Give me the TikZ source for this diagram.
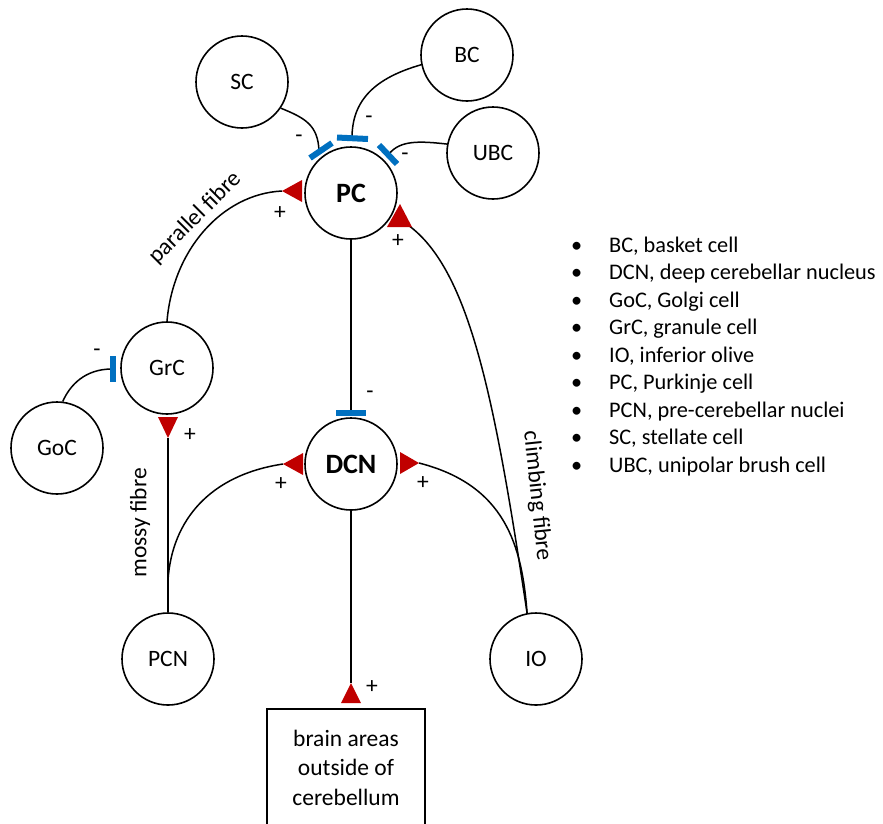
\documentclass[tikz,border=0pt]{standalone}
\usepackage{fontspec}
\setmainfont{Carlito}
\definecolor{exc}{HTML}{C00000}
\definecolor{inh}{HTML}{0070C0}
\begin{document}
\begin{tikzpicture}[x=1pt,y=-1pt,
  cell/.style={circle,draw,line width=1.6pt,minimum size=92pt,inner sep=0pt,font=\fontsize{23.5}{28}\selectfont},
  bigcell/.style={cell,font=\fontsize{28}{32}\selectfont\bfseries},
  conn/.style={line width=1.5pt},
  inhbar/.style={draw=inh,line width=6pt},
  exctri/.style={fill=exc},
  sign/.style={font=\fontsize{23.5}{28}\selectfont,inner sep=0pt},
  fibre/.style={font=\fontsize{23.5}{28}\selectfont,inner sep=0pt},
  legend/.style={anchor=base west,font=\fontsize{22.3}{26}\selectfont,inner sep=0pt}]
\useasboundingbox (0,0) rectangle (883,823);
% cells
\node[cell] (SC) at (242,82) {SC};
\node[cell] (BC) at (467,55) {BC};
\node[cell] (UBC) at (493,153) {UBC};
\node[bigcell] (PC) at (351,193) {PC};
\node[cell] (GrC) at (167,368) {GrC};
\node[cell] (GoC) at (57,448) {GoC};
\node[bigcell] (DCN) at (351,464) {DCN};
\node[cell] (PCN) at (168,659) {PCN};
\node[cell] (IO) at (536,659) {IO};
\node[draw,line width=1.6pt,minimum width=158pt,minimum height=118pt,align=center,anchor=north,
  font=\fontsize{23.5}{29.5}\selectfont] (BA) at (346,708) {brain areas\\outside of\\cerebellum};
% coordinates
\coordinate (pfA) at (282,191);
\coordinate (cfA) at (408,225);
\coordinate (grcA) at (168,438);
\coordinate (dcnL) at (283,464);
\coordinate (dcnR) at (419,463);
\coordinate (baA) at (351,683);
\coordinate (scB) at (319,151);
\coordinate (bcB) at (352,138);
\coordinate (ubcB) at (389,154);
\coordinate (pcB) at (351,413);
\coordinate (goB) at (112,369);
\coordinate (mfJ) at (168,580);
% connectors
\draw[conn] (SC.-34) .. controls (305,118) and (318,125) .. (scB);
\draw[conn] (BC.192) .. controls (375,78) and (352,100) .. (bcB);
\draw[conn] (UBC.169) .. controls (420,141) and (400,140) .. (ubcB);
\draw[conn] (GoC.83) .. controls (70,385) and (85,369) .. (goB);
\draw[conn] (GrC.north) .. controls (173,250) and (222,194) .. (pfA);
\draw[conn] (PCN.north) -- (grcA);
\draw[conn] (mfJ) .. controls (172,520) and (210,475) .. (dcnL);
\draw[conn] (IO.101) .. controls (522,545) and (505,485) .. (dcnR);
\draw[conn] (IO.101) .. controls (495,400) and (470,270) .. (cfA);
\draw[conn] (PC.south) -- (pcB);
\draw[conn] (DCN.south) -- (baA);
% inhibitory bars
\draw[inhbar] (310,158) -- (332,143);
\draw[inhbar] (337,137.5) -- (368,139);
\draw[inhbar] (379,145) -- (397,164);
\draw[inhbar] (336,413) -- (366,413);
\draw[inhbar] (113,356) -- (113,382);
% excitatory triangles
\fill[exctri] (pfA) -- (302,180) -- (302,202) -- cycle;
\fill[exctri] (400,204) -- (387,227) -- (412,227) -- cycle;
\fill[exctri] (grcA) -- (158,417) -- (178,417) -- cycle;
\fill[exctri] (dcnL) -- (303,453) -- (303,475) -- cycle;
\fill[exctri] (dcnR) -- (400,452) -- (400,474) -- cycle;
\fill[exctri] (baA) -- (341,703) -- (361,703) -- cycle;
% signs
\node[sign] (s1) at (299,139) {-};
\node[sign] (s2) at (369,120) {-};
\node[sign] (s3) at (405,157) {-};
\node[sign] (s4) at (280,213) {+};
\node[sign] (s5) at (398,241) {+};
\node[sign] (s6) at (97,353) {-};
\node[sign] (s7) at (190,435) {+};
\node[sign] (s8) at (281,484) {+};
\node[sign] (s9) at (423,483) {+};
\node[sign] (s10) at (370,395) {-};
\node[sign] (s11) at (372,687) {+};
% fibre labels
\node[fibre,rotate=45] (lpf) at (195,218) {parallel fibre};
\node[fibre,rotate=90] (lmf) at (140,523) {mossy fibre};
\node[fibre,rotate=-84] (lcf) at (537,496) {climbing fibre};
% legend
\node[legend] (b1) at (571,252) {\textbullet};
\node[legend] (b2) at (571,279.5) {\textbullet};
\node[legend] (b3) at (571,307) {\textbullet};
\node[legend] (b4) at (571,334.5) {\textbullet};
\node[legend] (b5) at (571,362) {\textbullet};
\node[legend] (b6) at (571,389.5) {\textbullet};
\node[legend] (b7) at (571,417) {\textbullet};
\node[legend] (b8) at (571,444.5) {\textbullet};
\node[legend] (b9) at (571,472) {\textbullet};
\node[legend] (t1) at (609,252) {BC, basket cell};
\node[legend] (t2) at (609,279.5) {DCN, deep cerebellar nucleus};
\node[legend] (t3) at (609,307) {GoC, Golgi cell};
\node[legend] (t4) at (609,334.5) {GrC, granule cell};
\node[legend] (t5) at (609,362) {IO, inferior olive};
\node[legend] (t6) at (609,389.5) {PC, Purkinje cell};
\node[legend] (t7) at (609,417) {PCN, pre-cerebellar nuclei};
\node[legend] (t8) at (609,444.5) {SC, stellate cell};
\node[legend] (t9) at (609,472) {UBC, unipolar brush cell};
\end{tikzpicture}
\end{document}
